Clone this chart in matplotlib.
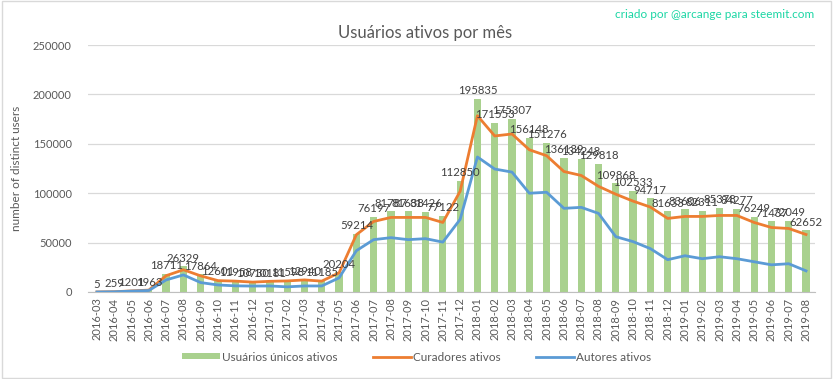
import matplotlib.pyplot as plt
import numpy as np
from matplotlib.patches import Rectangle

months = ["2016-03", "2016-04", "2016-05", "2016-06", "2016-07", "2016-08", "2016-09",
          "2016-10", "2016-11", "2016-12", "2017-01", "2017-02", "2017-03", "2017-04",
          "2017-05", "2017-06", "2017-07", "2017-08", "2017-09", "2017-10", "2017-11",
          "2017-12", "2018-01", "2018-02", "2018-03", "2018-04", "2018-05", "2018-06",
          "2018-07", "2018-08", "2018-09", "2018-10", "2018-11", "2018-12", "2019-01",
          "2019-02", "2019-03", "2019-04", "2019-05", "2019-06", "2019-07", "2019-08"]

unique_users = [5, 259, 1201, 1963, 18711, 26329, 17864, 12601, 11958, 10730, 10181,
                11598, 12940, 11185, 20204, 59214, 76197, 81787, 81638, 81426, 77122,
                112850, 195835, 171553, 175307, 156148, 151276, 136139, 134248, 129818,
                109868, 102533, 94717, 81633, 83606, 82311, 85378, 84277, 76249, 71437,
                72049, 62652]

curators = [5, 250, 1100, 1900, 16500, 22500, 16300, 11500, 11000, 10000, 10800,
            11200, 12200, 11000, 19400, 58000, 71400, 75500, 75500, 75500, 70400,
            102000, 178500, 158000, 160000, 144000, 138000, 122000, 118000, 107000,
            99000, 92000, 86000, 74500, 76500, 76500, 77500, 77500, 70400, 65300,
            64300, 58200]

authors = [5, 200, 900, 1500, 12200, 17300, 9500, 7100, 6200, 6000, 6100,
           5200, 6100, 6100, 14300, 41800, 53000, 55000, 53000, 54000, 50500,
           73500, 136700, 124500, 121400, 100000, 101000, 84700, 85700, 79600,
           56000, 51000, 43900, 32700, 36700, 33700, 35700, 33700, 30600, 27500,
           28600, 21400]

plt.rcParams['font.family'] = ['Lato', 'DejaVu Sans']

fig = plt.figure(figsize=(8.33, 3.79), dpi=100)
ax = fig.add_axes([0.106, 0.2296, 0.872, 0.6514])

x = np.arange(len(months))
bars = ax.bar(x, unique_users, width=0.42, color="#A9D18E", label="Usuários únicos ativos", zorder=2)
l1, = ax.plot(x, curators, color="#ED7D31", lw=2, label="Curadores ativos", zorder=3)
l2, = ax.plot(x, authors, color="#5B9BD5", lw=2, label="Autores ativos", zorder=3)

for xi, v in zip(x, unique_users):
    ax.text(xi, v + 2500, str(v), ha="center", va="bottom", fontsize=8.2,
            color="#404040", zorder=4)

ax.set_xlim(-0.5, len(months) - 0.5)
ax.set_ylim(0, 250000)
ax.set_yticks(np.arange(0, 250001, 50000))
ax.set_xticks(x)
ax.set_xticklabels(months, rotation=90, fontsize=8, color="#595959")
ax.tick_params(axis="y", labelsize=8, colors="#595959", length=0, pad=12)
ax.tick_params(axis="x", length=0, pad=4)
ax.grid(axis="y", color="#D9D9D9", lw=0.9, zorder=0)
for s in ["top", "right", "left"]:
    ax.spines[s].set_visible(False)
ax.spines["bottom"].set_color("#BFBFBF")
ax.set_ylabel("number of distinct users", fontsize=8.5, color="#595959", labelpad=8)

fig.text(0.51, 0.913, "Usuários ativos por mês", ha="center", va="center",
         fontsize=12, color="#595959")
fig.text(0.978, 0.962, "criado por @arcange para steemit.com", ha="right", va="center",
         fontsize=8.5, color="#1BD6A4")

fig.legend(handles=[bars, l1, l2], loc="center", bbox_to_anchor=(0.5, 0.058), ncol=3,
           frameon=False, fontsize=8.5, labelcolor="#595959", handlelength=3.2,
           handleheight=0.4, columnspacing=3, handletextpad=0.2)

fig.patches.append(Rectangle((0.002, 0.003), 0.995, 0.994, transform=fig.transFigure,
                             fill=False, edgecolor="#D9D9D9", lw=1))

fig.savefig("out.png", dpi=100)
